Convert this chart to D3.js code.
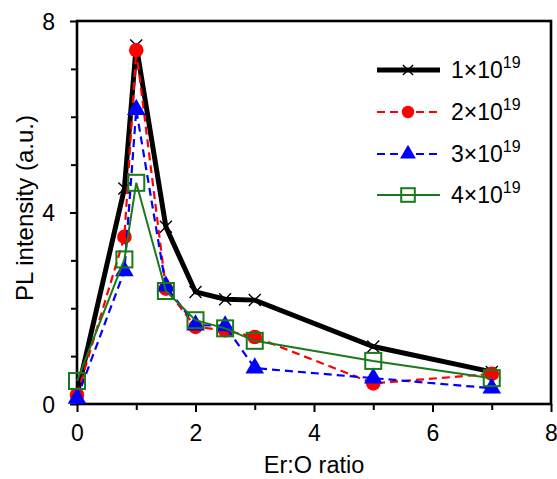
<!DOCTYPE html>
<html>
<head>
<meta charset="utf-8">
<script src="https://cdn.jsdelivr.net/npm/d3@7"></script>
<style>
  html, body { margin: 0; padding: 0; background: #fff; }
  svg { display: block; font-family: "Liberation Sans", Arial, sans-serif; }
</style>
</head>
<body>
<svg id="chart" width="557" height="479"></svg>
<script>
const xValues = [0, 0.8, 1, 1.5, 2, 2.5, 3, 5, 7];
const series1 = [0.2, 4.5, 7.49, 3.70, 2.34, 2.19, 2.17, 1.20, 0.67];
const series2 = [0.19, 3.49, 7.39, 2.41, 1.61, 1.54, 1.40, 0.43, 0.63];
const series3 = [0.12, 2.78, 6.15, 2.46, 1.65, 1.63, 0.75, 0.54, 0.33];
const series4 = [0.48, 3.02, 4.62, 2.36, 1.75, 1.58, 1.32, 0.90, 0.54];
const seriesBases = ["1×10", "2×10", "3×10", "4×10"];
const seriesExp = "19";
const xTickLabels = [0, 2, 4, 6, 8];
const yTickLabels = [0, 4, 8];
const xTitle = "Er:O ratio";
const yTitle = "PL intensity (a.u.)";

const svg = d3.select("#chart");
const pL = 77, pR = 551, pT = 21, pB = 404;
const x = d3.scaleLinear().domain([0, 8]).range([pL, pR]);
const y = d3.scaleLinear().domain([0, 8]).range([pB, pT]);

const styles = [
  {color: "#000", width: 5, dash: null, symbol: "x"},
  {color: "#ff0000", width: 2.2, dash: "8,5", symbol: "circle"},
  {color: "#0000ff", width: 2.2, dash: "8,5", symbol: "triangle"},
  {color: "#1a7a1a", width: 2, dash: null, symbol: "square"}
];
const allSeries = [series1, series2, series3, series4];

function drawMarker(g, type, cx, cy, scale, color) {
  if (type === "x") {
    const s = 6 * scale;
    g.append("path")
      .attr("d", `M${cx - s},${cy - s}L${cx + s},${cy + s}M${cx - s},${cy + s}L${cx + s},${cy - s}`)
      .attr("stroke", "#000").attr("stroke-width", 1.4).attr("fill", "none");
  } else if (type === "circle") {
    g.append("circle").attr("cx", cx).attr("cy", cy).attr("r", 7.3 * scale).attr("fill", color);
  } else if (type === "triangle") {
    g.append("path").attr("d", d3.symbol(d3.symbolTriangle, 150 * scale * scale)())
      .attr("transform", `translate(${cx},${cy})`).attr("fill", color);
  } else if (type === "square") {
    const s = 8 * scale;
    g.append("rect").attr("x", cx - s).attr("y", cy - s).attr("width", 2 * s).attr("height", 2 * s)
      .attr("fill", "none").attr("stroke", color).attr("stroke-width", 2);
  }
}

// axes
const xAxis = d3.axisBottom(x).tickValues(d3.range(0, 9, 1)).tickSize(0).tickFormat("");
const yAxis = d3.axisLeft(y).tickValues(d3.range(0, 9, 1)).tickSize(0).tickFormat("");

const gx = svg.append("g").attr("transform", `translate(0,${pB})`).call(xAxis);
gx.select(".domain").remove();
gx.selectAll(".tick line")
  .attr("y2", d => xTickLabels.includes(d) ? 8 : 6)
  .attr("stroke", "#000").attr("stroke-width", 2);
gx.selectAll(".tick").filter(d => xTickLabels.includes(d)).append("text")
  .attr("y", 37).attr("text-anchor", "middle").attr("fill", "#000")
  .attr("font-size", 23).text(d => d);

const gy = svg.append("g").attr("transform", `translate(${pL},0)`).call(yAxis);
gy.select(".domain").remove();
gy.selectAll(".tick line")
  .attr("x2", d => yTickLabels.includes(d) ? -7 : -6)
  .attr("stroke", "#000").attr("stroke-width", 2);
gy.selectAll(".tick").filter(d => yTickLabels.includes(d)).append("text")
  .attr("x", -22).attr("dy", "0.36em").attr("text-anchor", "end").attr("fill", "#000")
  .attr("font-size", 23).text(d => d);

// frame
svg.append("rect").attr("x", pL).attr("y", pT).attr("width", pR - pL).attr("height", pB - pT)
  .attr("fill", "none").attr("stroke", "#000").attr("stroke-width", 2.6);

// titles
svg.append("text").attr("x", (pL + pR) / 2).attr("y", 473).attr("text-anchor", "middle")
  .attr("font-size", 23.5).attr("fill", "#000").text(xTitle);
svg.append("text").attr("transform", `translate(33,208) rotate(-90)`).attr("text-anchor", "middle")
  .attr("font-size", 24).attr("fill", "#000").text(yTitle);

// series
const line = d3.line().x((d, i) => x(xValues[i])).y(d => y(d));
allSeries.forEach((vals, si) => {
  const st = styles[si];
  const g = svg.append("g");
  g.append("path").datum(vals).attr("d", line)
    .attr("fill", "none").attr("stroke", st.color).attr("stroke-width", st.width)
    .attr("stroke-dasharray", st.dash).attr("stroke-linejoin", "miter");
  vals.forEach((v, i) => drawMarker(g, st.symbol, x(xValues[i]), y(v), 1, st.color));
});

// legend
const legRows = [70, 112, 154, 195];
const lg = svg.append("g");
seriesBases.forEach((lab, i) => {
  const st = styles[i];
  const yy = legRows[i];
  lg.append("line").attr("x1", 377).attr("x2", 440).attr("y1", yy).attr("y2", yy)
    .attr("stroke", st.color).attr("stroke-width", st.width).attr("stroke-dasharray", st.dash);
  drawMarker(lg, st.symbol, 408, yy, 0.85, st.color);
  const t = lg.append("text").attr("x", 451).attr("y", yy + 8).attr("font-size", 23).attr("fill", "#000");
  t.append("tspan").text(lab);
  t.append("tspan").attr("dy", -10).attr("font-size", 16).text(seriesExp);
});
</script>
</body>
</html>
